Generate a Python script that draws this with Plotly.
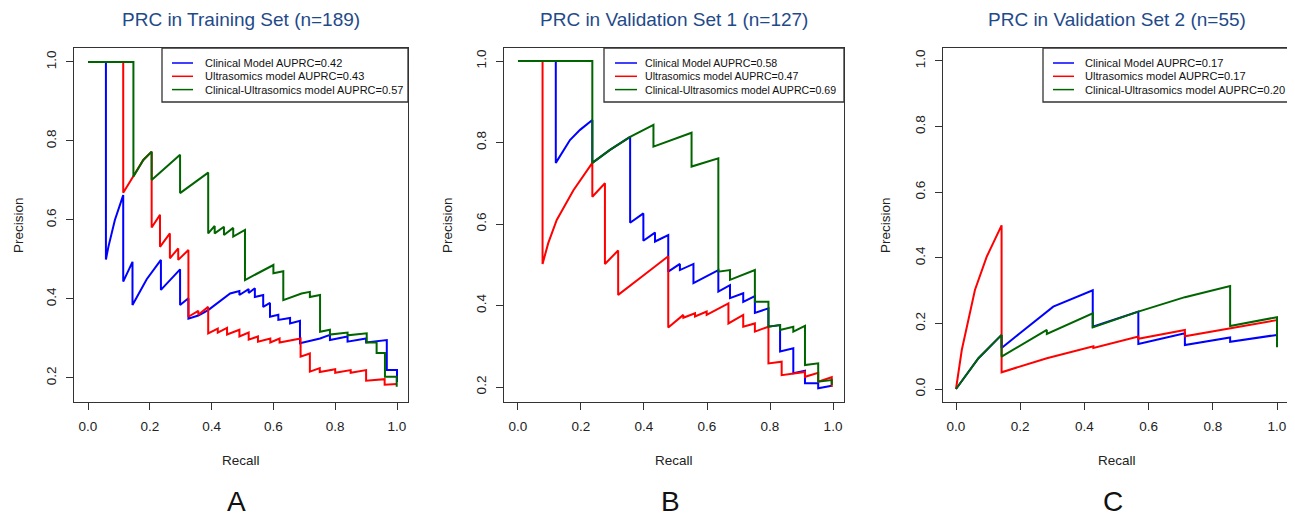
import plotly.graph_objs as go
from plotly.subplots import make_subplots

####### DATA ######
panel_titles = ["PRC in Training Set (n=189)", "PRC in Validation Set 1 (n=127)", "PRC in Validation Set 2 (n=55)"]
panel_letters = ["A", "B", "C"]
model_names = ["Clinical Model", "Ultrasomics model", "Clinical-Ultrasomics model"]
auprc_train = [0.42, 0.43, 0.57]
auprc_val1 = [0.58, 0.47, 0.69]
auprc_val2 = [0.17, 0.17, 0.20]

# Training set
train_clin_r = [0, 0.058, 0.058, 0.066, 0.087, 0.114, 0.114, 0.144, 0.144, 0.19, 0.236, 0.236, 0.298, 0.298,
                0.325, 0.325, 0.357, 0.389, 0.46, 0.49, 0.49, 0.52, 0.52, 0.54, 0.54, 0.567, 0.567, 0.589,
                0.589, 0.616, 0.616, 0.654, 0.654, 0.686, 0.686, 0.751, 0.783, 0.783, 0.84, 0.84, 0.90, 0.90,
                0.967, 0.967, 1.0, 1.0]
train_clin_p = [1.0, 1.0, 0.50, 0.532, 0.60, 0.663, 0.444, 0.494, 0.385, 0.45, 0.499, 0.423, 0.475, 0.385,
                0.402, 0.35, 0.358, 0.372, 0.414, 0.42, 0.41, 0.425, 0.415, 0.427, 0.405, 0.41, 0.38, 0.39,
                0.355, 0.36, 0.347, 0.352, 0.338, 0.345, 0.288, 0.30, 0.309, 0.296, 0.305, 0.292, 0.30, 0.29,
                0.296, 0.22, 0.22, 0.19]
train_us_r = [0, 0.114, 0.114, 0.147, 0.179, 0.206, 0.206, 0.233, 0.233, 0.265, 0.265, 0.292, 0.292, 0.325,
              0.325, 0.357, 0.357, 0.389, 0.389, 0.42, 0.42, 0.45, 0.45, 0.49, 0.49, 0.52, 0.52, 0.55, 0.55,
              0.59, 0.59, 0.62, 0.62, 0.688, 0.688, 0.718, 0.718, 0.75, 0.75, 0.80, 0.80, 0.85, 0.85, 0.90,
              0.90, 0.96, 0.96, 1.0]
train_us_p = [1.0, 1.0, 0.669, 0.71, 0.752, 0.773, 0.581, 0.613, 0.532, 0.566, 0.503, 0.528, 0.499, 0.524,
              0.355, 0.37, 0.36, 0.38, 0.313, 0.325, 0.315, 0.327, 0.31, 0.322, 0.305, 0.315, 0.297, 0.305,
              0.292, 0.30, 0.29, 0.30, 0.29, 0.30, 0.254, 0.262, 0.216, 0.225, 0.215, 0.222, 0.213, 0.22,
              0.213, 0.22, 0.193, 0.197, 0.183, 0.185]
train_comb_r = [0, 0.147, 0.147, 0.179, 0.206, 0.206, 0.298, 0.298, 0.389, 0.389, 0.41, 0.41, 0.44, 0.44,
                0.47, 0.47, 0.508, 0.508, 0.60, 0.60, 0.632, 0.632, 0.691, 0.718, 0.718, 0.751, 0.751, 0.783,
                0.783, 0.84, 0.84, 0.902, 0.902, 0.934, 0.934, 0.961, 0.961, 0.999, 0.999]
train_comb_p = [1.0, 1.0, 0.71, 0.752, 0.773, 0.701, 0.765, 0.668, 0.72, 0.566, 0.585, 0.566, 0.583, 0.562,
                0.58, 0.558, 0.575, 0.448, 0.486, 0.465, 0.47, 0.397, 0.414, 0.418, 0.405, 0.41, 0.317, 0.322,
                0.31, 0.315, 0.308, 0.313, 0.29, 0.29, 0.263, 0.263, 0.203, 0.203, 0.178]

# Validation set 1
val1_clin_r = [0, 0.12, 0.12, 0.165, 0.197, 0.236, 0.236, 0.292, 0.356, 0.356, 0.398, 0.398, 0.435, 0.435,
               0.477, 0.477, 0.514, 0.514, 0.557, 0.557, 0.636, 0.636, 0.673, 0.673, 0.715, 0.715, 0.752,
               0.752, 0.795, 0.795, 0.832, 0.832, 0.874, 0.874, 0.911, 0.911, 0.953, 0.953, 0.996]
val1_clin_p = [1.0, 1.0, 0.75, 0.806, 0.831, 0.855, 0.75, 0.782, 0.814, 0.603, 0.626, 0.559, 0.579, 0.557,
               0.573, 0.483, 0.502, 0.487, 0.502, 0.455, 0.487, 0.434, 0.45, 0.418, 0.43, 0.409, 0.423,
               0.382, 0.393, 0.348, 0.352, 0.287, 0.295, 0.234, 0.24, 0.209, 0.209, 0.197, 0.203]
val1_us_r = [0, 0.078, 0.078, 0.096, 0.123, 0.176, 0.236, 0.236, 0.276, 0.276, 0.318, 0.318, 0.40, 0.477,
             0.477, 0.525, 0.525, 0.562, 0.562, 0.599, 0.599, 0.668, 0.668, 0.715, 0.715, 0.752, 0.752, 0.795,
             0.795, 0.837, 0.837, 0.911, 0.911, 0.953, 0.953, 0.996, 0.996]
val1_us_p = [1.0, 1.0, 0.502, 0.553, 0.61, 0.683, 0.75, 0.667, 0.70, 0.502, 0.535, 0.426, 0.475, 0.521,
             0.346, 0.377, 0.37, 0.381, 0.373, 0.385, 0.377, 0.405, 0.356, 0.377, 0.348, 0.356, 0.336, 0.348,
             0.258, 0.262, 0.229, 0.237, 0.225, 0.235, 0.213, 0.224, 0.20]
val1_comb_r = [0, 0.236, 0.236, 0.292, 0.356, 0.43, 0.43, 0.551, 0.551, 0.636, 0.636, 0.673, 0.673, 0.752,
               0.752, 0.795, 0.795, 0.832, 0.832, 0.874, 0.874, 0.911, 0.911, 0.953, 0.953, 0.996, 0.996]
val1_comb_p = [1.0, 1.0, 0.75, 0.782, 0.814, 0.843, 0.79, 0.824, 0.741, 0.761, 0.483, 0.487, 0.463, 0.487,
               0.409, 0.409, 0.348, 0.352, 0.34, 0.348, 0.336, 0.35, 0.254, 0.258, 0.213, 0.217, 0.205]

# Validation set 2
val2_clin_r = [0, 0.07, 0.142, 0.142, 0.199, 0.303, 0.426, 0.426, 0.568, 0.568, 0.713, 0.713, 0.854, 0.854, 1.0]
val2_clin_p = [0, 0.094, 0.165, 0.125, 0.17, 0.251, 0.301, 0.19, 0.236, 0.137, 0.17, 0.134, 0.157, 0.144, 0.165]
val2_us_r = [0, 0.018, 0.059, 0.096, 0.142, 0.142, 0.283, 0.428, 0.428, 0.568, 0.568, 0.713, 0.713, 0.854, 1.0]
val2_us_p = [0, 0.119, 0.302, 0.404, 0.499, 0.051, 0.094, 0.13, 0.125, 0.16, 0.153, 0.18, 0.161, 0.185, 0.21]
val2_comb_r = [0, 0.07, 0.142, 0.142, 0.283, 0.283, 0.426, 0.426, 0.568, 0.713, 0.854, 0.854, 1.0, 1.0]
val2_comb_p = [0, 0.094, 0.165, 0.099, 0.18, 0.168, 0.231, 0.188, 0.236, 0.28, 0.314, 0.192, 0.219, 0.127]

y_ticks = [[0.2, 0.4, 0.6, 0.8, 1.0], [0.2, 0.4, 0.6, 0.8, 1.0], [0.0, 0.2, 0.4, 0.6, 0.8, 1.0]]
x_ticks = [0.0, 0.2, 0.4, 0.6, 0.8, 1.0]

colors = ["#0000FF", "#FF0000", "#006400"]
FONT = "Liberation Sans, Arial, sans-serif"
# the page puts the plot 8px in from the top-left corner, so draw on a slightly smaller canvas
OFF = 8
W, H = 1295 - OFF, 516 - OFF


def fx(p):
    return (p - OFF) / W


def fy(p):
    return 1 - (p - OFF) / H


panels = [
    dict(curves=[(train_clin_r, train_clin_p), (train_us_r, train_us_p), (train_comb_r, train_comb_p)],
         auprc=auprc_train, box=(74, 408), xr=[-0.0453, 1.0356], yr=[0.1392, 1.0354],
         leg_left=162, leg_line=(172, 193), leg_text=203, leg_size=11, ytitle_x=18),
    dict(curves=[(val1_clin_r, val1_clin_p), (val1_us_r, val1_us_p), (val1_comb_r, val1_comb_p)],
         auprc=auprc_val1, box=(504, 844), xr=[-0.0444, 1.0349], yr=[0.1632, 1.0319],
         leg_left=604, leg_line=(615, 637), leg_text=643, leg_size=10.6, ytitle_x=447),
    dict(curves=[(val2_clin_r, val2_clin_p), (val2_us_r, val2_us_p), (val2_comb_r, val2_comb_p)],
         auprc=auprc_val2, box=(943, 1291), xr=[-0.0405, 1.0436], yr=[-0.0396, 1.0396],
         leg_left=1043, leg_line=(1053, 1074), leg_text=1083, leg_size=11.1, ytitle_x=885),
]

BOX_TOP, BOX_BOTTOM = 48, 402

fig = make_subplots(rows=1, cols=3)
annotations = []
shapes = []

for i, pan in enumerate(panels):
    col = i + 1
    for (r, p), c, name in zip(pan["curves"], colors, model_names):
        fig.add_trace(go.Scatter(x=r, y=p, mode="lines", name=name, showlegend=False,
                                 line=dict(color=c, width=2)), row=1, col=col)

    x0, x1 = pan["box"]
    axis_style = dict(showgrid=False, zeroline=False, showline=True, mirror=True,
                      linecolor="#333333", linewidth=1.3, ticks="outside", ticklen=7,
                      tickwidth=1.2, tickcolor="#333333",
                      tickfont=dict(family=FONT, size=13.5, color="#222222"))
    fig.update_xaxes(domain=[fx(x0), fx(x1)], range=pan["xr"], tickvals=x_ticks,
                     tickformat=".1f", ticklabelstandoff=5, row=1, col=col, **axis_style)
    fig.update_yaxes(domain=[fy(BOX_BOTTOM), fy(BOX_TOP)], range=pan["yr"], tickvals=y_ticks[i],
                     tickformat=".1f", tickangle=-90, ticklabelstandoff=4, row=1, col=col, **axis_style)

    cx = (x0 + x1) / 2
    annotations.append(dict(text=panel_titles[i], x=fx(cx), y=fy(20), xref="paper", yref="paper",
                            showarrow=False, xanchor="center", yanchor="middle",
                            font=dict(family=FONT, size=19, color="#1F4A8A")))
    annotations.append(dict(text="Recall", x=fx(cx), y=fy(460), xref="paper", yref="paper",
                            showarrow=False, xanchor="center", yanchor="middle",
                            font=dict(family=FONT, size=13.5, color="#222222")))
    annotations.append(dict(text="Precision", x=fx(pan["ytitle_x"]), y=fy((BOX_TOP + BOX_BOTTOM) / 2),
                            xref="paper", yref="paper", showarrow=False, textangle=-90,
                            xanchor="center", yanchor="middle",
                            font=dict(family=FONT, size=13.5, color="#222222")))
    annotations.append(dict(text=panel_letters[i], x=fx(cx - 4), y=fy(501), xref="paper", yref="paper",
                            showarrow=False, xanchor="center", yanchor="middle",
                            font=dict(family=FONT, size=28, color="#111111")))

    # legend box drawn by hand (R style, tight rows)
    lx = pan["leg_left"]
    shapes.append(dict(type="rect", xref="paper", yref="paper", x0=fx(lx), x1=fx(x1),
                       y0=fy(102), y1=fy(BOX_TOP), line=dict(color="#333333", width=1.3),
                       fillcolor="white", layer="above"))
    for k, (c, name) in enumerate(zip(colors, model_names)):
        row_y = 63 + 13.3 * k
        shapes.append(dict(type="line", xref="paper", yref="paper", x0=fx(pan["leg_line"][0]),
                           x1=fx(pan["leg_line"][1]), y0=fy(row_y), y1=fy(row_y),
                           line=dict(color=c, width=1.5), layer="above"))
        annotations.append(dict(text="%s AUPRC=%.2f" % (name, pan["auprc"][k]), x=fx(pan["leg_text"]),
                                y=fy(row_y), xref="paper", yref="paper", showarrow=False,
                                xanchor="left", yanchor="middle",
                                font=dict(family=FONT, size=pan["leg_size"], color="#111111")))

fig.update_layout(width=W, height=H, margin=dict(l=0, r=0, t=0, b=0),
                  paper_bgcolor="white", plot_bgcolor="white",
                  annotations=annotations, shapes=shapes, showlegend=False)

fig.write_html("out.html")
